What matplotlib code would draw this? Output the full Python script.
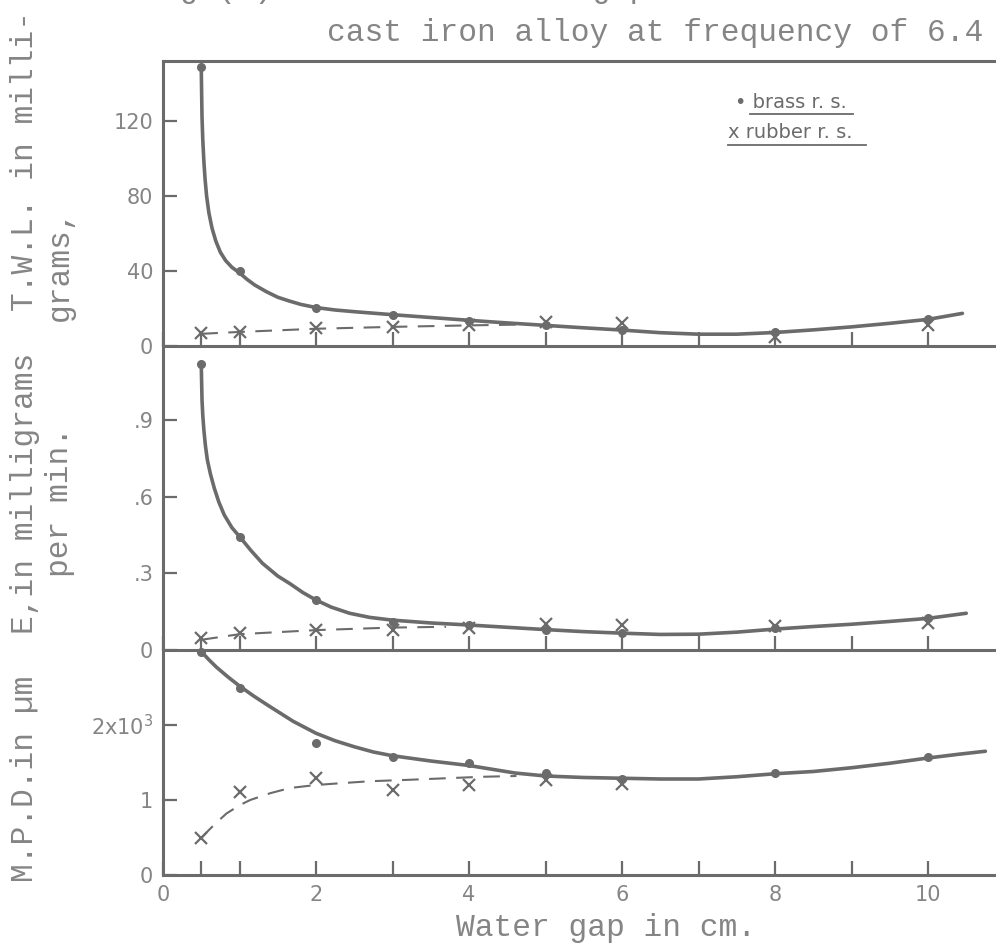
import matplotlib
matplotlib.use("Agg")
import matplotlib.pyplot as plt
from matplotlib.lines import Line2D

# measured water gaps (cm)
gap = [0.5, 1, 2, 3, 4, 5, 6, 8, 10]
gap_mpd_rubber = [0.5, 1, 2, 3, 4, 5, 6]

# total weight loss (mg)
twl_brass = [149, 40, 20.3, 16.5, 13.5, 11, 8.5, 7.6, 14.2]
twl_rubber = [6.8, 7.6, 9.4, 10, 11.2, 13, 12.3, 5, 11.2]

# erosion rate (mg/min)
e_brass = [1.12, 0.444, 0.196, 0.111, 0.098, 0.08, 0.068, 0.085, 0.124]
e_rubber = [0.047, 0.066, 0.078, 0.08, 0.085, 0.1, 0.098, 0.095, 0.105]

# mean penetration depth (x10^3 um)
mpd_brass = [2.98, 2.5, 1.76, 1.58, 1.5, 1.36, 1.28, 1.36, 1.58]
mpd_rubber = [0.49, 1.11, 1.29, 1.13, 1.2, 1.27, 1.22]

# hand drawn fit curves
twl_fit_x = [0.5, 0.505, 0.51, 0.52, 0.535, 0.55, 0.57, 0.6, 0.64, 0.69, 0.75, 0.82,
             0.9, 1.0, 1.1, 1.2, 1.35, 1.5, 1.65, 1.8, 2.0, 2.25, 2.5, 3, 3.5, 4,
             4.5, 5, 5.5, 6, 6.5, 7, 7.5, 8, 8.5, 9, 9.5, 10, 10.45]
twl_fit = [149, 135, 122, 110, 98, 89, 80, 71, 63, 56, 50, 45.5,
           42, 39, 35.5, 32.5, 29, 26, 24, 22.2, 20.5, 19.2, 18.3, 16.7, 15.2, 13.7,
           12.3, 11, 9.7, 8.5, 7.1, 6.3, 6.3, 7.2, 8.6, 10.2, 12.1, 14.2, 17.4]
twl_dash_x = [0.5, 1, 2, 3, 4, 4.8]
twl_dash = [6.5, 7.5, 9.2, 10.2, 11.0, 11.5]

e_fit_x = [0.5, 0.505, 0.51, 0.52, 0.535, 0.555, 0.58, 0.62, 0.67, 0.73, 0.8, 0.9,
           1.0, 1.15, 1.3, 1.5, 1.66, 1.83, 2.0, 2.2, 2.44, 2.7, 3, 3.5, 4, 4.5,
           5, 5.5, 6, 6.5, 7, 7.5, 8, 8.5, 9, 9.5, 10, 10.5]
e_fit = [1.12, 1.05, 0.98, 0.92, 0.86, 0.80, 0.745, 0.69, 0.635, 0.58, 0.53, 0.48,
         0.445, 0.39, 0.34, 0.29, 0.26, 0.225, 0.196, 0.168, 0.144, 0.128, 0.117, 0.106,
         0.098, 0.089, 0.08, 0.072, 0.066, 0.061, 0.062, 0.07, 0.082, 0.092, 0.101,
         0.112, 0.124, 0.144]
e_dash_x = [0.5, 1, 2, 3, 3.7]
e_dash = [0.04, 0.062, 0.078, 0.088, 0.091]

mpd_fit_x = [0.5, 0.6, 0.7, 0.85, 1.0, 1.18, 1.36, 1.53, 1.7, 1.85, 2.0, 2.25, 2.5,
             2.75, 3, 3.5, 4, 4.3, 4.6, 5, 5.5, 6, 6.5, 7, 7.5, 8, 8.5, 9, 9.5, 10,
             10.4, 10.75]
mpd_fit = [2.98, 2.87, 2.77, 2.64, 2.52, 2.39, 2.27, 2.16, 2.05, 1.97, 1.89, 1.79, 1.71,
           1.64, 1.59, 1.52, 1.46, 1.41, 1.36, 1.32, 1.30, 1.29, 1.28, 1.28, 1.31, 1.35,
           1.38, 1.43, 1.49, 1.56, 1.61, 1.65]
mpd_dash_x = [0.5, 0.6, 0.7, 0.83, 1.0, 1.14, 1.4, 1.66, 2.0, 2.27, 2.7, 3.23, 3.7,
              4.19, 4.62]
mpd_dash = [0.49, 0.6, 0.7, 0.82, 0.93, 1.0, 1.09, 1.16, 1.2, 1.22, 1.25, 1.27, 1.29,
            1.31, 1.32]

x_ticks = [0, 0.5, 1, 2, 3, 4, 5, 6, 7, 8, 9, 10]
x_labels = ["0", "", "", "2", "", "4", "", "6", "", "8", "", "10"]

ink = "#6b6b6b"
text_ink = "#858585"
mono = ["Liberation Mono", "DejaVu Sans Mono"]
sans = ["DejaVu Sans"]

fig = plt.figure(figsize=(9.96, 9.5), dpi=100)

left = 163 / 996
width = (1006 - 163) / 996
ax1 = fig.add_axes([left, (950 - 346) / 950, width, 285 / 950])
ax2 = fig.add_axes([left, (950 - 650) / 950, width, 304 / 950])
ax3 = fig.add_axes([left, (950 - 875) / 950, width, 225 / 950])

panels = [
    (ax1, twl_brass, twl_rubber, gap, twl_fit_x, twl_fit, twl_dash_x, twl_dash),
    (ax2, e_brass, e_rubber, gap, e_fit_x, e_fit, e_dash_x, e_dash),
    (ax3, mpd_brass, mpd_rubber, gap_mpd_rubber, mpd_fit_x, mpd_fit, mpd_dash_x, mpd_dash),
]

for ax, brass, rubber, rx, fx, fy, dx, dy in panels:
    ax.plot(fx, fy, color=ink, lw=2.6, solid_capstyle="round", solid_joinstyle="round",
            clip_on=False)
    ax.plot(dx, dy, color=ink, lw=1.5, ls=(0, (8, 5)))
    ax.plot(gap, brass, "o", color=ink, ms=5.5, clip_on=False)
    ax.plot(rx, rubber, "x", color=ink, ms=8, mew=1.6, clip_on=False)

    ax.set_xlim(0, (1006 - 163) / 76.5)
    ax.set_facecolor("none")
    ax.spines["right"].set_visible(False)
    for s in ["left", "bottom", "top"]:
        ax.spines[s].set_color(ink)
        ax.spines[s].set_linewidth(2.2)
    ax.set_xticks(x_ticks)
    ax.tick_params(axis="both", direction="in", length=10, width=1.6, color=ink,
                   labelcolor=text_ink, labelsize=15, pad=7)
    for lab in ax.get_xticklabels() + ax.get_yticklabels():
        lab.set_family(sans)

ax2.spines["top"].set_visible(False)
ax3.spines["top"].set_visible(False)

ax1.set_ylim(0, 152)
ax1.set_yticks([0, 40, 80, 120])
ax2.set_ylim(0, 1.192)
ax2.set_yticks([0, 0.3, 0.6, 0.9])
ax2.set_yticklabels(["0", ".3", ".6", ".9"])
ax3.set_ylim(0, 3.0)
ax3.set_yticks([0, 1, 2])
ax3.set_yticklabels(["0", "1", r"2x10$^{3}$"])

ax1.set_xticklabels([])
ax2.set_xticklabels([])
ax3.set_xticklabels(x_labels)
for lab in ax3.get_xticklabels():
    lab.set_family(sans)

# axis titles in typewriter style
fs = 22.5
fig.text(25 / 996, 1 - 161 / 950, "T.W.L. in milli-", rotation=90, ha="center",
         va="center", family=mono, fontsize=fs, color=text_ink)
fig.text(60 / 996, 1 - 265 / 950, "grams,", rotation=90, ha="center",
         va="center", family=mono, fontsize=fs, color=text_ink)
fig.text(25 / 996, 1 - 493 / 950, "E,in milligrams", rotation=90, ha="center",
         va="center", family=mono, fontsize=fs, color=text_ink)
fig.text(60 / 996, 1 - 502 / 950, "per min.", rotation=90, ha="center",
         va="center", family=mono, fontsize=fs, color=text_ink)
fig.text(25 / 996, 1 - 779 / 950, "M.P.D.in µm", rotation=90, ha="center",
         va="center", family=mono, fontsize=fs, color=text_ink)
fig.text(606 / 996, 1 - 928 / 950, "Water gap in cm.", ha="center", va="center",
         family=mono, fontsize=fs, color=text_ink)

# caption (top line is cut off by the page edge, as in the scan)
fig.text(142 / 996, 1 + 11 / 950, "Fig.(5) Effect of water gap on erosion of the",
         ha="left", va="center", family=mono, fontsize=fs, color=text_ink)
fig.text(327 / 996, 1 - 33 / 950, "cast iron alloy at frequency of 6.4",
         ha="left", va="center", family=mono, fontsize=fs, color=text_ink)

# hand written legend
fig.text(735 / 996, 1 - 103 / 950, "• brass r. s.", ha="left", va="center",
         family=sans, fontsize=14, color=ink)
fig.text(728 / 996, 1 - 132 / 950, "x rubber r. s.", ha="left", va="center",
         family=sans, fontsize=14, color=ink)
fig.add_artist(Line2D([750 / 996, 853 / 996], [1 - 114 / 950, 1 - 114 / 950],
                      color=ink, lw=1.3))
fig.add_artist(Line2D([728 / 996, 866 / 996], [1 - 145 / 950, 1 - 145 / 950],
                      color=ink, lw=1.3))

plt.savefig("out.png", dpi=100)
